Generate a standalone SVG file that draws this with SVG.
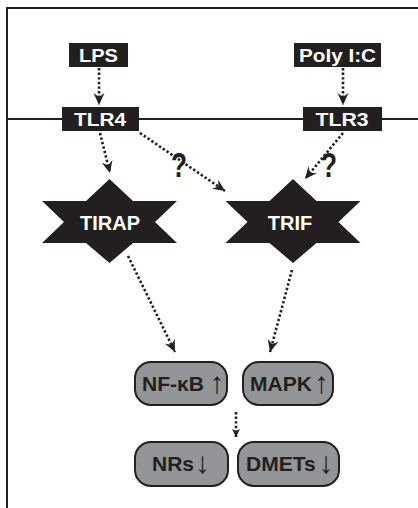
<svg xmlns="http://www.w3.org/2000/svg" width="418" height="508" viewBox="0 0 418 508">
<style>
.frame{fill:none;stroke:#231f20;stroke-width:2}
.box{fill:#231f20}
.wt{fill:#fff;font-family:"Liberation Sans",Arial,sans-serif;font-weight:bold;text-anchor:middle}
.pill{fill:#939598;stroke:#231f20;stroke-width:2}
.pt{fill:#231f20;font-family:"Liberation Sans",Arial,sans-serif;font-weight:bold;font-size:21px}
.ar{font-size:30px;font-weight:bold}
.con{fill:none;stroke:#231f20;stroke-width:2.6;stroke-dasharray:2.4 2.2}
.q{fill:#231f20;font-family:"Liberation Sans",Arial,sans-serif;font-weight:bold;text-anchor:middle}
</style>
<defs>
<marker id="ah" markerUnits="userSpaceOnUse" markerWidth="14" markerHeight="12" refX="12" refY="6" orient="auto">
<path d="M0,0.5 L12,6 L0,11.5 L4,6 z" fill="#231f20"/>
</marker>
<marker id="ahs" markerUnits="userSpaceOnUse" markerWidth="10" markerHeight="10" refX="8" refY="4" orient="auto">
<path d="M0,0 L8,4 L0,8 L2,4 z" fill="#231f20"/>
</marker>
<path id="star" d="M-67.5,-20 L-23.5,-20 L0,-42 L23.5,-20 L67.5,-20 L45.5,1 L67.5,22 L23.5,22 L0,42 L-23.5,22 L-67.5,22 L-45.5,1 z"/>
</defs>
<path class="frame" d="M7,508 V8 H418"/>
<line class="frame" x1="7" y1="119" x2="418" y2="119"/>
<g id="connectors">
<path class="con" d="M99,68 L99,105" marker-end="url(#ah)"/>
<path class="con" d="M343,68 L343,105" marker-end="url(#ah)"/>
<path class="con" d="M100,133 L110,173" marker-end="url(#ah)"/>
<path class="con" d="M140,133 L225,191" marker-end="url(#ah)"/>
<path class="con" d="M343,133 L305,179" marker-end="url(#ah)"/>
<path class="con" d="M128,256 L175,352" marker-end="url(#ah)"/>
<path class="con" d="M292,270 L270,352" marker-end="url(#ah)"/>
<path class="con" d="M236,412 L236,437" marker-end="url(#ahs)"/>
<text class="q" transform="translate(179,177) scale(0.75,1)" font-size="35">?</text>
<text class="q" transform="translate(329,177) scale(0.75,1)" font-size="35">?</text>
</g>
<g id="LPS">
<rect class="box" x="69" y="43" width="59" height="24"/>
<text class="wt" x="98.5" y="62" font-size="19" textLength="39" lengthAdjust="spacingAndGlyphs">LPS</text>
</g>
<g id="PolyIC">
<rect class="box" x="294" y="43" width="87" height="24"/>
<text class="wt" x="337.5" y="62" font-size="19" textLength="77" lengthAdjust="spacingAndGlyphs">Poly I:C</text>
</g>
<g id="TLR4">
<rect class="box" x="62" y="107" width="77" height="24"/>
<text class="wt" x="100" y="126" font-size="19" textLength="52" lengthAdjust="spacingAndGlyphs">TLR4</text>
</g>
<g id="TLR3">
<rect class="box" x="303" y="107" width="79" height="24"/>
<text class="wt" x="342" y="126" font-size="19" textLength="53" lengthAdjust="spacingAndGlyphs">TLR3</text>
</g>
<g id="TIRAP">
<use href="#star" x="109.5" y="221" fill="#231f20"/>
<text class="wt" x="110" y="230" font-size="20">TIRAP</text>
</g>
<g id="TRIF">
<use href="#star" x="293" y="221" fill="#231f20"/>
<text class="wt" x="290" y="230" font-size="20">TRIF</text>
</g>
<g id="NFkB">
<rect class="pill" x="135" y="362" width="92" height="43" rx="16"/>
<text class="pt" x="142" y="391">NF-κB<tspan class="ar" x="209.5" y="393">↑</tspan></text>
</g>
<g id="MAPK">
<rect class="pill" x="243" y="362" width="90" height="43" rx="16"/>
<text class="pt" x="250" y="391">MAPK<tspan class="ar" x="314" y="393">↑</tspan></text>
</g>
<g id="NRs">
<rect class="pill" x="135" y="442" width="93" height="44" rx="16"/>
<text class="pt" x="152" y="471">NRs<tspan class="ar" x="195" y="473">↓</tspan></text>
</g>
<g id="DMETs">
<rect class="pill" x="238" y="442" width="101" height="44" rx="16"/>
<text class="pt" x="246" y="471">DMETs<tspan class="ar" x="318.5" y="473">↓</tspan></text>
</g>
</svg>
